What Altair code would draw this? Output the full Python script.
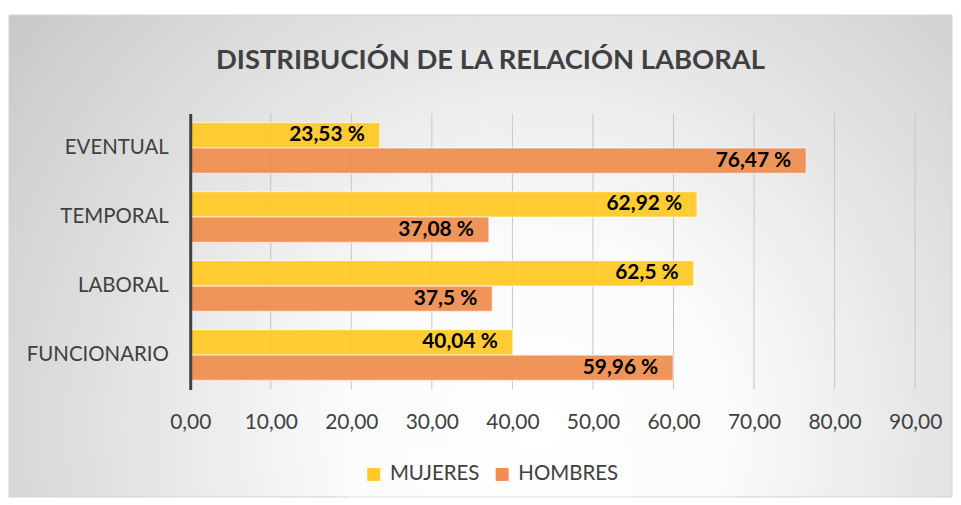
import altair as alt
import pandas as pd

categories = ["EVENTUAL", "TEMPORAL", "LABORAL", "FUNCIONARIO"]
series = ["MUJERES", "HOMBRES"]
mujeres = [23.53, 62.92, 62.5, 40.04]
hombres = [76.47, 37.08, 37.5, 59.96]
x_ticks = [0, 10, 20, 30, 40, 50, 60, 70, 80, 90]
title_text = "DISTRIBUCIÓN DE LA RELACIÓN LABORAL"

colors = ["#FFC926", "#EF8E50"]
FONT = "Lato"
GREY = "#404040"

rows = []
for c, m, h in zip(categories, mujeres, hombres):
    rows.append({"cat": c, "serie": "MUJERES", "valor": m})
    rows.append({"cat": c, "serie": "HOMBRES", "valor": h})
df = pd.DataFrame(rows)
grid_df = pd.DataFrame({"v": x_ticks[1:]})
bg_df = pd.DataFrame({"a": [0]})

bg_gradient = {
    "gradient": "radial",
    "x1": 0.56, "y1": 0.68, "r1": 0,
    "x2": 0.56, "y2": 0.68, "r2": 0.85,
    "stops": [
        {"offset": 0, "color": "#ffffff"},
        {"offset": 0.25, "color": "#fafafa"},
        {"offset": 1, "color": "#bababa"},
    ],
}

background = alt.Chart(bg_df).mark_rect(
    fill=bg_gradient, stroke="#d4d4d4", strokeWidth=1
).encode(
    x=alt.value(-182), x2=alt.value(765), y=alt.value(-99), y2=alt.value(385)
)

x_enc = alt.X(
    "valor:Q",
    scale=alt.Scale(domain=[0, 90], nice=False, zero=True),
    axis=alt.Axis(
        values=x_ticks, title=None, domain=False, ticks=False, grid=False,
        labelExpr="replace(format(datum.value, '.2f'), '.', ',')",
        labelFontSize=21, labelFont=FONT, labelColor=GREY, labelPadding=22,
        labelFlush=False, zindex=1,
    ),
)
y_enc = alt.Y(
    "cat:N", sort=categories,
    scale=alt.Scale(paddingInner=0.264, paddingOuter=0.13),
    axis=alt.Axis(
        title=None, ticks=False, grid=False, domainColor=GREY, domainWidth=3,
        labelFontSize=20.5, labelFont=FONT, labelColor=GREY, labelPadding=22,
        zindex=1,
    ),
)
yoff = alt.YOffset("serie:N", sort=series,
                   scale=alt.Scale(paddingInner=0, paddingOuter=0))

grid = alt.Chart(grid_df).mark_rule(color="#c6c6c6", strokeWidth=1).encode(
    x=alt.X("v:Q")
)

bars = alt.Chart(df).mark_bar(
    stroke="white", strokeOpacity=0.6, strokeWidth=1.2, fillOpacity=0.94
).encode(
    x=x_enc,
    y=y_enc,
    yOffset=yoff,
    color=alt.Color(
        "serie:N", sort=series,
        scale=alt.Scale(domain=series, range=colors),
        legend=alt.Legend(
            orient="none", legendX=158, legendY=336, direction="horizontal",
            title=None, symbolType="square", symbolSize=169,
            symbolStrokeWidth=0, labelFontSize=20.5, labelFont=FONT,
            labelColor=GREY, padding=16, fillColor="rgba(255,255,255,0.3)",
            columnPadding=12, labelOffset=6,
        ),
    ),
)

labels = alt.Chart(df).transform_calculate(
    label="replace(toString(datum.valor), '.', ',') + ' %'"
).mark_text(
    align="right", baseline="middle", dx=-15, fontSize=21,
    fontWeight="bold", font=FONT, color="black"
).encode(
    x=alt.X("valor:Q"),
    y=alt.Y("cat:N", sort=categories),
    yOffset=alt.YOffset("serie:N", sort=series),
    text="label:N",
)

chart = alt.layer(background, grid, bars, labels).properties(
    width=728,
    height=277,
    padding={"left": 0, "top": 5, "right": 0, "bottom": 0},
    title=alt.TitleParams(
        text=title_text, fontSize=27.5, font=FONT, fontWeight="bold",
        color=GREY, anchor="middle", frame="bounds", baseline="middle",
        offset=-47, dx=10, dy=27,
    ),
).configure_view(stroke=None).configure(background="white")

chart.save("out.html", embed_options={"renderer": "svg", "actions": False})
